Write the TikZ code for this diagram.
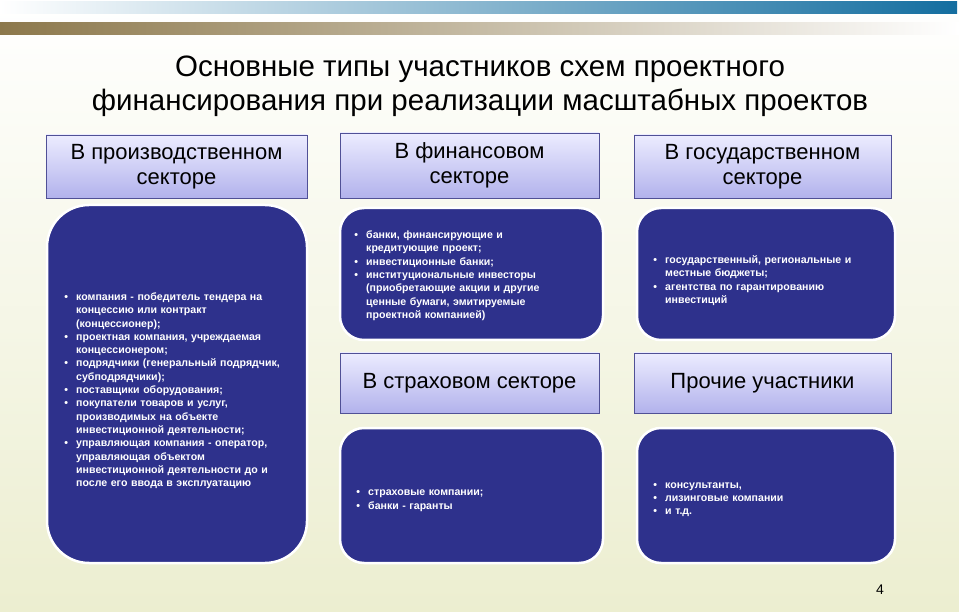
\documentclass[tikz,border=0pt]{standalone}
\usepackage{fontspec}
\setmainfont{Liberation Sans}
\usepackage{enumitem}
\setlist[itemize]{label=\textbullet,leftmargin=14pt,labelsep=8pt,itemsep=0pt,parsep=0pt,topsep=0pt,partopsep=0pt}
\definecolor{dk}{RGB}{46,49,140}
\definecolor{hd1}{RGB}{236,236,255}
\definecolor{hd2}{RGB}{178,178,236}
\definecolor{hdb}{RGB}{80,80,150}
\tikzset{
 hdr/.style={draw=hdb,line width=0.8pt,top color=hd1,bottom color=hd2,font=\fontsize{22}{25}\selectfont,align=center,inner sep=0pt},
 dark/.style={fill=dk,draw=white,line width=2.5pt,rounded corners=#1},
 dark/.default=28pt,
 tx/.style={text=white,font=\bfseries\fontsize{10.6}{13.3}\selectfont,anchor=west,inner sep=0pt}
}
\begin{document}
\begin{tikzpicture}[x=1pt,y=-1pt]
\useasboundingbox (0,0) rectangle (959,612);
\fill[top color=white,bottom color={rgb,255:red,236;green,238;blue,208}] (0,0) rectangle (959,612);
\fill[left color=white,right color={rgb,255:red,20;green,110;blue,160}] (0,2) rectangle (957,14);
\fill[left color={rgb,255:red,140;green,120;blue,75},right color=white] (0,23) rectangle (959,35);
\node[font=\fontsize{29.5}{34}\selectfont,align=center] (title) at (480,86) {Основные типы участников схем проектного\\финансирования при реализации масштабных проектов};
% headers
\node[hdr,minimum width=261,minimum height=63] (h1) at (176.5,166.5) {В производственном\\секторе};
\node[hdr,minimum width=259,minimum height=65] (h2) at (469.5,165.5) {В финансовом\\секторе};
\node[hdr,minimum width=257,minimum height=63] (h3) at (762.5,166.5) {В государственном\\секторе};
\node[hdr,minimum width=259,minimum height=60] (h4) at (469.5,383) {В страховом секторе};
\node[hdr,minimum width=257,minimum height=60] (h5) at (762.5,383) {Прочие участники};
% dark boxes
\draw[dark=42pt] (47,205) rectangle (307,563);
\draw[dark=24pt] (340,208) rectangle (603,340);
\draw[dark=24pt] (637,208) rectangle (895,340);
\draw[dark=24pt] (340,428) rectangle (603,563);
\draw[dark=24pt] (637,428) rectangle (895,563);
\node[tx,text width=218] (t1) at (62,388) {\begin{itemize}
\item компания - победитель тендера на концессию или контракт (концессионер);
\item проектная компания, учреждаемая концессионером;
\item подрядчики (генеральный подрядчик, субподрядчики);
\item поставщики оборудования;
\item покупатели товаров и услуг, производимых на объекте инвестиционной деятельности;
\item управляющая компания - оператор, управляющая объектом инвестиционной деятельности до и после его ввода в эксплуатацию
\end{itemize}};
\node[tx,text width=212] (t2) at (352,273) {\begin{itemize}
\item банки, финансирующие и кредитующие проект;
\item инвестиционные банки;
\item институциональные инвесторы (приобретающие акции и другие ценные бумаги, эмитируемые проектной компанией)
\end{itemize}};
\node[tx,text width=236] (t3) at (651,278) {\begin{itemize}
\item государственный, региональные и местные бюджеты;
\item агентства по гарантированию инвестиций
\end{itemize}};
\node[tx,text width=225] (t4) at (354,497) {\begin{itemize}
\item страховые компании;
\item банки - гаранты
\end{itemize}};
\node[tx,text width=225] (t5) at (651,496) {\begin{itemize}
\item консультанты,
\item лизинговые компании
\item и т.д.
\end{itemize}};
\node[font=\fontsize{14}{16}\selectfont] (pg) at (880,590) {4};
\end{tikzpicture}
\end{document}
